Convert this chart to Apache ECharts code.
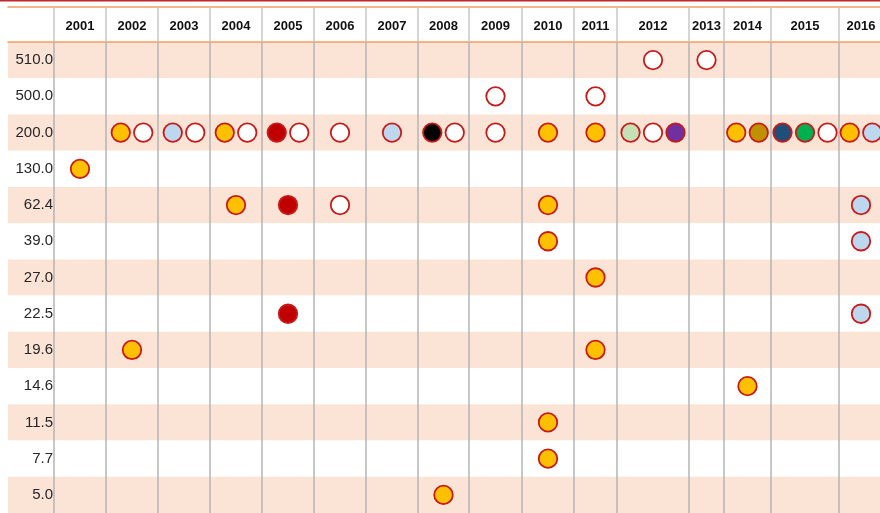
<!DOCTYPE html>
<html>
<head>
<meta charset="utf-8">
<script src="https://cdn.jsdelivr.net/npm/echarts@6/dist/echarts.min.js"></script>
<style>
  html, body { margin: 0; padding: 0; background: #fff; }
  #chart { width: 880px; height: 513px; }
</style>
</head>
<body>
<div id="chart"></div>
<script>
// column headers and row labels
var years = ['2001', '2002', '2003', '2004', '2005', '2006', '2007', '2008',
             '2009', '2010', '2011', '2012', '2013', '2014', '2015', '2016'];
var levels = ['510.0', '500.0', '200.0', '130.0', '62.4', '39.0', '27.0',
              '22.5', '19.6', '14.6', '11.5', '7.7', '5.0'];

// year, level, fills of the circles in that cell (left to right)
var marks = [
  ['2001', '130.0', ['gold']],
  ['2002', '200.0', ['gold', 'white']],
  ['2002', '19.6', ['gold']],
  ['2003', '200.0', ['lightblue', 'white']],
  ['2004', '200.0', ['gold', 'white']],
  ['2004', '62.4', ['gold']],
  ['2005', '200.0', ['darkred', 'white']],
  ['2005', '62.4', ['darkred']],
  ['2005', '22.5', ['darkred']],
  ['2006', '200.0', ['white']],
  ['2006', '62.4', ['white']],
  ['2007', '200.0', ['lightblue']],
  ['2008', '200.0', ['black', 'white']],
  ['2008', '5.0', ['gold']],
  ['2009', '500.0', ['white']],
  ['2009', '200.0', ['white']],
  ['2010', '200.0', ['gold']],
  ['2010', '62.4', ['gold']],
  ['2010', '39.0', ['gold']],
  ['2010', '11.5', ['gold']],
  ['2010', '7.7', ['gold']],
  ['2011', '500.0', ['white']],
  ['2011', '200.0', ['gold']],
  ['2011', '27.0', ['gold']],
  ['2011', '19.6', ['gold']],
  ['2012', '510.0', ['white']],
  ['2012', '200.0', ['lightgreen', 'white', 'purple']],
  ['2013', '510.0', ['white']],
  ['2014', '200.0', ['gold', 'olive']],
  ['2014', '14.6', ['gold']],
  ['2015', '200.0', ['navy', 'green', 'white']],
  ['2016', '200.0', ['gold', 'lightblue']],
  ['2016', '62.4', ['lightblue']],
  ['2016', '39.0', ['lightblue']],
  ['2016', '22.5', ['lightblue']]
];

// styles
var fillColors = {
  gold: '#FFC000', white: '#FFFFFF', lightblue: '#BDD7EE', darkred: '#C00000',
  black: '#000000', lightgreen: '#C5E0B4', purple: '#7030A0', olive: '#BF9000',
  navy: '#1F4E79', green: '#00B050'
};
// table layout (px); the last column runs past the right edge
var colWidths = [52, 52, 52, 52, 52, 52, 52, 51, 53, 52, 43, 72, 35, 47, 68, 44];
var labelColWidth = 46;
var visibleWidth = 826;
var slotGap = 22.5;

var edges = [0];
colWidths.forEach(function (w, i) { edges.push(edges[i] + w); });
var centers = colWidths.map(function (w, i) { return edges[i] + w / 2; });
var innerEdges = edges.filter(function (e) { return e <= visibleWidth; });

var seriesMap = {};
var series = Object.keys(fillColors).map(function (name) {
  var s = {
    type: 'scatter',
    name: name,
    symbol: 'circle',
    symbolSize: 18.5,
    itemStyle: {
      color: fillColors[name],
      borderColor: '#C91A1A',
      borderWidth: 1.8,
      opacity: 1
    },
    z: 5,
    data: []
  };
  seriesMap[name] = s;
  return s;
});

marks.forEach(function (m) {
  var c = centers[years.indexOf(m[0])];
  var n = m[2].length;
  m[2].forEach(function (fill, k) {
    seriesMap[fill].data.push([c + (k - (n - 1) / 2) * slotGap, m[1]]);
  });
});

var gridLine = '#B4B4B4';
var orange = '#F29D62';

var myChart = echarts.init(document.getElementById('chart'));
myChart.setOption({
  animation: false,
  textStyle: { fontFamily: 'Liberation Sans' },
  grid: {
    left: 8,
    top: 42,
    right: 0,
    bottom: 0,
    containLabel: false
  },
  xAxis: [
    {
      type: 'value',
      position: 'top',
      min: -labelColWidth,
      max: visibleWidth,
      axisLine: { show: true, lineStyle: { color: orange, width: 1.5 } },
      axisTick: {
        show: true,
        inside: false,
        length: 35,
        customValues: innerEdges,
        lineStyle: { color: '#C8C8C8', width: 1.5 }
      },
      axisLabel: {
        show: true,
        customValues: centers,
        margin: 9,
        fontSize: 13,
        fontWeight: 'bold',
        color: '#111',
        showMaxLabel: true,
        formatter: function (v) {
          for (var i = 0; i < centers.length; i++) {
            if (Math.abs(centers[i] - v) < 0.5) return years[i];
          }
          return '';
        }
      },
      splitLine: { show: true, lineStyle: { color: gridLine, width: 1.5 } }
    },
    {
      type: 'value',
      position: 'top',
      offset: 35,
      min: -labelColWidth,
      max: visibleWidth,
      axisLine: { show: true, lineStyle: { color: orange, width: 1.5 } },
      axisTick: { show: false },
      axisLabel: { show: false },
      splitLine: { show: false }
    }
  ],
  yAxis: {
    type: 'category',
    inverse: true,
    data: levels,
    axisLine: { show: false },
    axisTick: { show: false },
    axisLabel: {
      inside: true,
      align: 'right',
      margin: 45,
      fontSize: 15,
      color: '#262626'
    },
    splitLine: { show: false },
    splitArea: { show: true, areaStyle: { color: ['#FBE4D6', '#FFFFFF'] } }
  },
  graphic: [
    {
      type: 'rect',
      shape: { x: 0, y: 0, width: 880, height: 1.5 },
      style: { fill: '#C0282D' }
    }
  ],
  series: series
});
</script>
</body>
</html>
